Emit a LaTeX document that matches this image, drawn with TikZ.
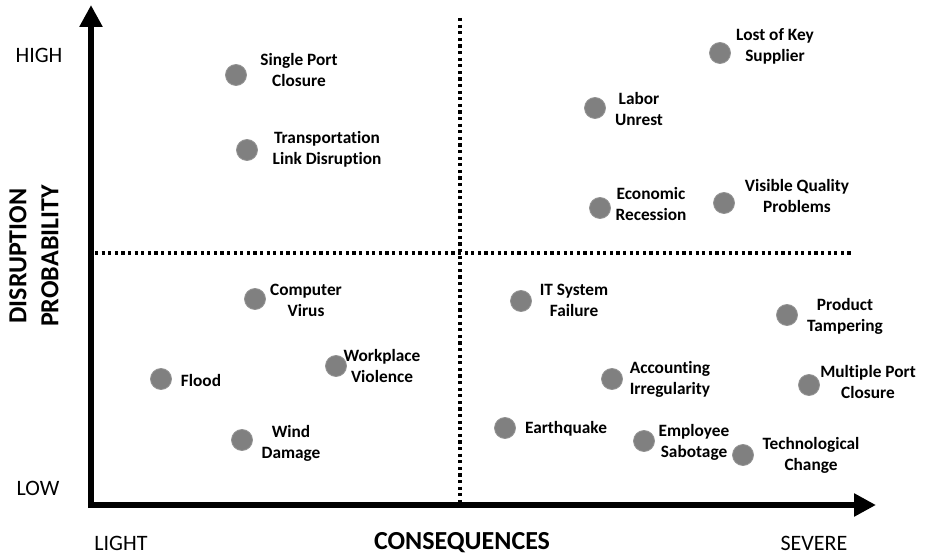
\documentclass[tikz,border=0pt]{standalone}
\usepackage{fontspec}
\setmainfont{Carlito}[Ligatures=NoCommon]
\usetikzlibrary{arrows.meta}
\definecolor{dotgray}{HTML}{808080}
\tikzset{
  pt/.style={circle,fill=dotgray,draw=dotgray!85,line width=0.8pt,minimum size=21pt,inner sep=0pt},
  lbl/.style={align=center,font=\fontsize{17.3}{21}\selectfont\bfseries,inner sep=0pt},
  axislbl/.style={font=\fontsize{22}{26}\selectfont,inner sep=0pt},
  axistitle/.style={font=\fontsize{26}{32}\selectfont\bfseries,inner sep=0pt,align=center},
  axisline/.style={line width=6pt,-{Triangle[length=22pt,width=22pt]}},
  divider/.style={line width=3.2pt,dash pattern=on 3.2pt off 3.4pt}
}
\begin{document}
\begin{tikzpicture}[x=1pt,y=-1pt]
\useasboundingbox (0,0) rectangle (927,556);
% axes
\coordinate (origin) at (88,505);
\coordinate (ytop) at (91,5);
\coordinate (xend) at (876,505);
\coordinate (vtop) at (460,18);
\coordinate (vbot) at (460,505);
\coordinate (hleft) at (95,253);
\coordinate (hright) at (852,253);
\draw[divider] (vtop) -- (vbot);
\draw[divider] (hleft) -- (hright);
\draw[axisline] (91,508) -- (ytop);
\draw[axisline] (origin) -- (xend);
% axis labels
\node[axislbl] (high) at (39,55) {HIGH};
\node[axislbl] (low) at (38,488) {LOW};
\node[axislbl] (light) at (121,543) {LIGHT};
\node[axislbl] (severe) at (814,543) {SEVERE};
\node[axistitle] (cons) at (462,543) {CONSEQUENCES};
\node[axistitle,rotate=90] (prob) at (34,256) {DISRUPTION\\PROBABILITY};
% points
\node[pt] (p1) at (236,75) {};
\node[lbl] (l1) at (299,70) {Single Port\\Closure};
\node[pt] (p2) at (247,150) {};
\node[lbl] (l2) at (327,149) {Transportation\\Link Disruption};
\node[pt] (p3) at (720,53) {};
\node[lbl] (l3) at (775,46) {Lost of Key\\Supplier};
\node[pt] (p4) at (595,108) {};
\node[lbl] (l4) at (639,109) {Labor\\Unrest};
\node[pt] (p5) at (600,208) {};
\node[lbl] (l5) at (651,204) {Economic\\Recession};
\node[pt] (p6) at (724,203) {};
\node[lbl] (l6) at (797,196) {Visible Quality\\Problems};
\node[pt] (p7) at (255,299) {};
\node[lbl] (l7) at (306,300) {Computer\\Virus};
\node[pt] (p8) at (521,301) {};
\node[lbl] (l8) at (574,300) {IT System\\Failure};
\node[pt] (p9) at (787,315) {};
\node[lbl] (l9) at (845,316) {Product\\Tampering};
\node[pt] (p10) at (336,366) {};
\node[lbl] (l10) at (382,366) {Workplace\\Violence};
\node[pt] (p11) at (161,379) {};
\node[lbl] (l11) at (201,380) {Flood};
\node[pt] (p12) at (612,379) {};
\node[lbl] (l12) at (670,379) {Accounting\\Irregularity};
\node[pt] (p13) at (809,385) {};
\node[lbl] (l13) at (868,382) {Multiple Port\\Closure};
\node[pt] (p14) at (505,428) {};
\node[lbl] (l14) at (566,429) {Earthquake};
\node[pt] (p15) at (644,441) {};
\node[lbl] (l15) at (694,442) {Employee\\Sabotage};
\node[pt] (p16) at (743,455) {};
\node[lbl] (l16) at (811,455) {Technological\\Change};
\node[pt] (p17) at (242,440) {};
\node[lbl] (l17) at (291,443) {Wind\\Damage};
\end{tikzpicture}
\end{document}
